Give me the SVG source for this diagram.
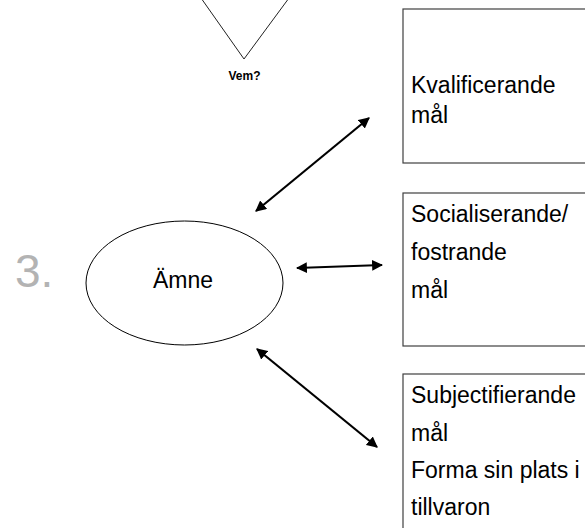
<svg xmlns="http://www.w3.org/2000/svg" width="585" height="528" viewBox="0 0 585 528">
<style>
.box{fill:#ffffff;stroke:#404040;stroke-width:1.2}
.t{font-family:"Liberation Sans",Arial,sans-serif;font-size:23px;fill:#000}
.conn{stroke:#000;stroke-width:2.2;fill:none;marker-start:url(#ah);marker-end:url(#ah)}
</style>
<defs>
<marker id="ah" viewBox="0 0 10 10" refX="9" refY="5" markerWidth="5" markerHeight="5" orient="auto-start-reverse" markerUnits="strokeWidth">
<path d="M0,0 L10,5 L0,10 z" fill="#000"/>
</marker>
</defs>
<rect width="585" height="528" fill="#fff"/>
<g id="vem">
<polyline points="201,-2 244,59 289,-2" fill="none" stroke="#222" stroke-width="1"/>
<text x="244.5" y="80" text-anchor="middle" font-family="Liberation Sans,Arial,sans-serif" font-size="12" font-weight="bold">Vem?</text>
</g>
<g id="label3">
<text x="15" y="287" font-family="Liberation Sans,Arial,sans-serif" font-size="46" fill="#b3b3b3">3.</text>
</g>
<g id="amne">
<ellipse cx="184.5" cy="283" rx="98.5" ry="62" fill="#fff" stroke="#000" stroke-width="1"/>
<text x="183" y="288" text-anchor="middle" class="t" font-size="21">Ämne</text>
</g>
<g id="kval">
<rect class="box" x="403" y="9" width="190" height="154"/>
<text class="t" x="411" y="93">Kvalificerande</text>
<text class="t" x="411" y="123">mål</text>
</g>
<g id="soc">
<rect class="box" x="403" y="193" width="190" height="153"/>
<text class="t" x="411" y="222">Socialiserande/</text>
<text class="t" x="411" y="260">fostrande</text>
<text class="t" x="411" y="298">mål</text>
</g>
<g id="subj">
<rect class="box" x="403" y="374" width="190" height="160"/>
<text class="t" x="411" y="403">Subjectifierande</text>
<text class="t" x="411" y="441">mål</text>
<text class="t" x="411" y="478">Forma sin plats i</text>
<text class="t" x="411" y="515">tillvaron</text>
</g>
<g id="connectors">
<line class="conn" x1="256" y1="211" x2="369" y2="118"/>
<line class="conn" x1="297" y1="268" x2="382" y2="265"/>
<line class="conn" x1="257" y1="349" x2="377" y2="447"/>
</g>
</svg>
